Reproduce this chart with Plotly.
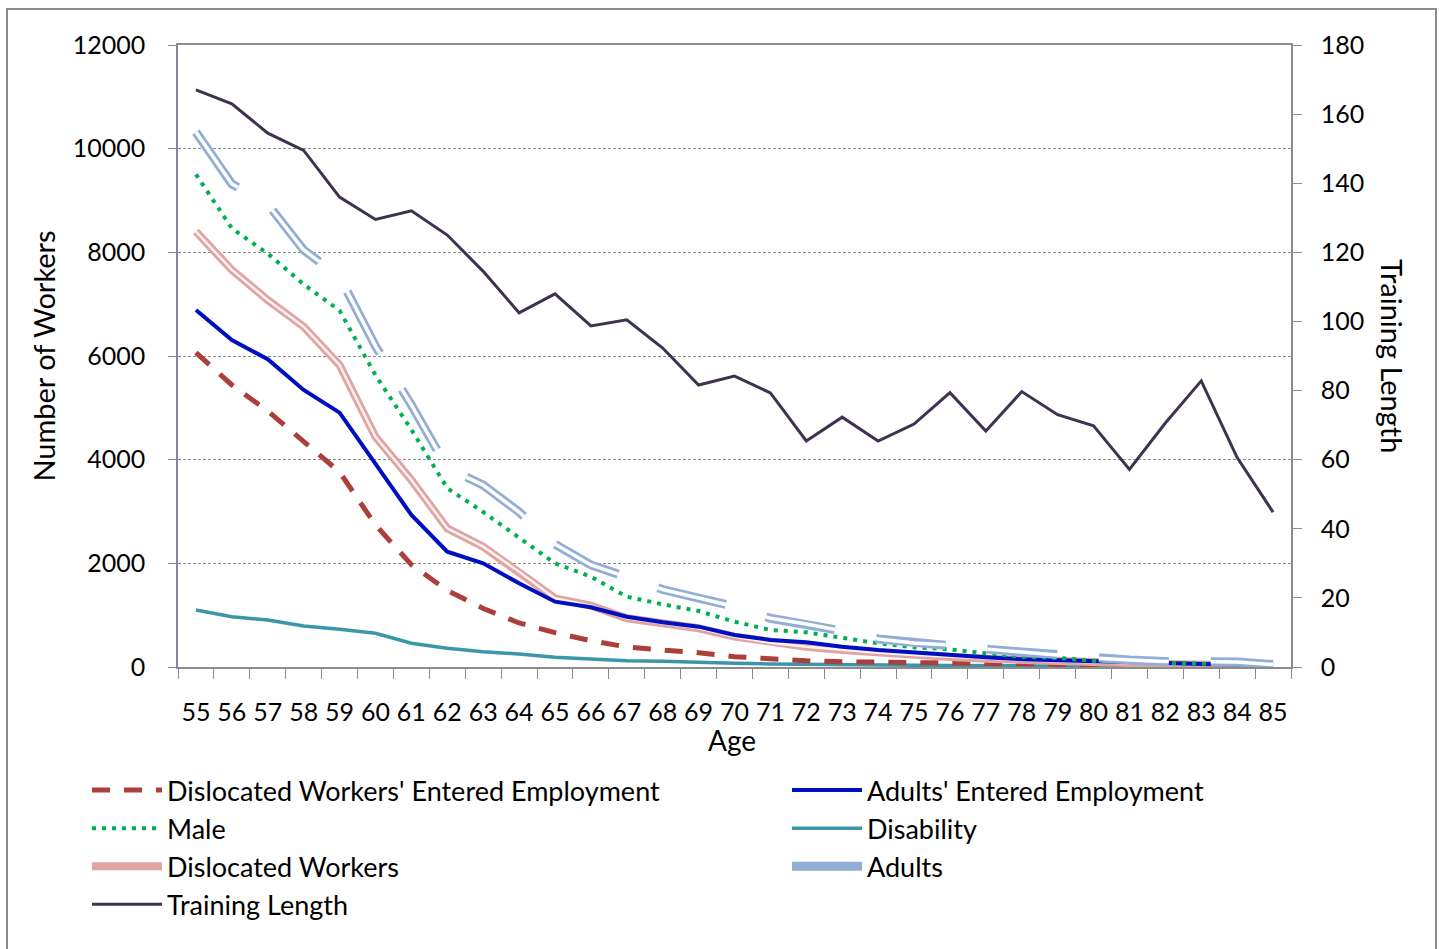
import plotly.graph_objects as go

# Age categories on the x axis
ages = ["55", "56", "57", "58", "59", "60", "61", "62", "63", "64", "65",
        "66", "67", "68", "69", "70", "71", "72", "73", "74", "75",
        "76", "77", "78", "79", "80", "81", "82", "83", "84", "85"]

# Number of workers (left axis)
dislocated_entered = [6064, 5441, 4939, 4341, 3762, 2740, 1974, 1476, 1129, 849, 662,
                      507, 386, 328, 276, 199, 149, 120, 102, 91, 80,
                      70, 60, 50, 45, 40, 35, 30, 25, 20, 15]
adults_entered = [6888, 6309, 5937, 5344, 4907, 3930, 2933, 2225, 2000, 1615, 1260,
                  1152, 971, 862, 778, 617, 521, 476, 392, 328, 276,
                  232, 190, 150, 130, 110, 90, 75, 60, 50, 35]
male = [9505, 8463, 7977, 7383, 6876, 5630, 4580, 3450, 2990, 2495, 2000,
        1743, 1356, 1209, 1080, 874, 714, 669, 566, 457, 380,
        340, 264, 200, 175, 120, 100, 80, 60, 50, 30]
disability = [1100, 971, 907, 791, 727, 650, 457, 360, 296, 251, 187,
              149, 122, 110, 83, 71, 60, 50, 45, 40, 35,
              30, 25, 20, 18, 15, 12, 10, 8, 6, 5]
dislocated_workers = [8400, 7660, 7080, 6566, 5827, 4443, 3608, 2676, 2321, 1839, 1325,
                      1183, 940, 843, 747, 585, 469, 392, 328, 276, 231,
                      193, 160, 130, 110, 90, 75, 60, 50, 40, 25]
adults = [10320, 9319, 8930, 8045, 7530, 6190, 5055, 3840, 3510, 2990, 2370,
          1968, 1736, 1495, 1331, 1167, 940, 830, 695, 540, 463,
          425, 347, 290, 232, 174, 135, 106, 106, 96, 48]

# Average training length (right axis)
training_length = [167, 163, 154.5, 149.5, 136, 129.5, 132, 125, 114.5, 102.5, 108,
                   98.7, 100.5, 92.3, 81.6, 84.2, 79.3, 65.4, 72.3, 65.4, 70.3,
                   79.4, 68.3, 79.7, 73, 69.8, 57.2, 70.6, 82.8, 60.6, 44.8]

FONT = "Lato, 'Open Sans', sans-serif"
W, H = 1439, 949
ML, MR, MT, MB = 178, 148, 45, 282
PW, PH = W - ML - MR, H - MT - MB


def px_x(x):
    return (x - ML) / PW


def px_y(y):
    return 1 - (y - MT) / PH


fig = go.Figure()

# Disability
fig.add_trace(go.Scatter(x=ages, y=disability, mode="lines", name="Disability",
                         line=dict(color="#3b96a9", width=3.5),
                         legend="legend2", legendrank=2))

# Dislocated Workers' Entered Employment
fig.add_trace(go.Scatter(x=ages, y=dislocated_entered, mode="lines",
                         name="Dislocated Workers' Entered Employment",
                         line=dict(color="#ab3f3a", width=5, dash="18px,14px"),
                         legend="legend", legendrank=1))

# Dislocated Workers: pink double line (outer pink, light core)
fig.add_trace(go.Scatter(x=ages, y=dislocated_workers, mode="lines",
                         name="Dislocated Workers",
                         line=dict(color="#e0a4a2", width=8),
                         legend="legend", legendrank=3, legendgroup="dw"))
fig.add_trace(go.Scatter(x=ages, y=dislocated_workers, mode="lines",
                         name="Dislocated Workers", showlegend=False,
                         line=dict(color="#fcf1f1", width=2.5), legendgroup="dw",
                         hoverinfo="skip"))

# Adults' Entered Employment
fig.add_trace(go.Scatter(x=ages, y=adults_entered, mode="lines",
                         name="Adults' Entered Employment",
                         line=dict(color="#0010c0", width=4),
                         legend="legend2", legendrank=1))

# Male
fig.add_trace(go.Scatter(x=ages, y=male, mode="lines", name="Male",
                         line=dict(color="#00b050", width=4, dash="4px,6px"),
                         legend="legend", legendrank=2))

# Adults: long-dashed double line
fig.add_trace(go.Scatter(x=ages, y=adults, mode="lines", name="Adults",
                         line=dict(color="#93aed5", width=9, dash="70px,42px"),
                         legend="legend2", legendrank=3, legendgroup="ad"))
fig.add_trace(go.Scatter(x=ages, y=adults, mode="lines", name="Adults",
                         showlegend=False, legendgroup="ad", hoverinfo="skip",
                         line=dict(color="#ffffff", width=3.5, dash="70px,42px")))

# Training Length on the secondary axis
fig.add_trace(go.Scatter(x=ages, y=training_length, mode="lines",
                         name="Training Length", yaxis="y2",
                         line=dict(color="#3f3150", width=3),
                         legend="legend", legendrank=4))

tick_font = dict(family=FONT, size=25, color="#000000")
title_font = dict(family=FONT, size=29, color="#000000")
legend_font = dict(family=FONT, size=27, color="#000000")

fig.update_layout(
    width=W, height=H, autosize=False,
    margin=dict(l=ML, r=MR, t=MT, b=MB, autoexpand=False),
    paper_bgcolor="#ffffff", plot_bgcolor="#ffffff",
    font=tick_font,
    xaxis=dict(
        type="category", range=[-0.5, 30.5], tickson="boundaries",
        ticks="outside", ticklen=10, tickcolor="#8c8c8c", tickwidth=1,
        showline=True, linecolor="#8c8c8c", linewidth=1.5, mirror=True,
        showgrid=False, tickfont=tick_font, tickangle=0, ticklabelstandoff=22,
        automargin=False,
    ),
    yaxis=dict(
        range=[0, 12000], dtick=2000, tickformat="d",
        ticks="outside", ticklen=8, tickcolor="#8c8c8c",
        showline=True, linecolor="#8a83a0", linewidth=1.5,
        showgrid=True, gridcolor="#8c8c8c", gridwidth=1, griddash="3px,2px",
        zeroline=False, tickfont=tick_font, ticklabelstandoff=18,
        title=dict(text="Number of Workers", font=title_font, standoff=9),
        automargin=False,
    ),
    yaxis2=dict(
        overlaying="y", side="right", range=[0, 180], dtick=20,
        ticks="outside", ticklen=9, tickcolor="#8c8c8c",
        showline=True, linecolor="#8c8c8c", linewidth=1.5,
        showgrid=False, zeroline=False, tickfont=tick_font,
        ticklabelstandoff=14, automargin=False,
    ),
    legend=dict(
        orientation="v", x=px_x(87), y=px_y(766), xanchor="left", yanchor="top",
        font=legend_font, itemwidth=70, bgcolor="rgba(0,0,0,0)",
        traceorder="normal", tracegroupgap=0,
    ),
    legend2=dict(
        orientation="v", x=px_x(787), y=px_y(766), xanchor="left", yanchor="top",
        font=legend_font, itemwidth=70, bgcolor="rgba(0,0,0,0)",
        traceorder="normal", tracegroupgap=0,
    ),
    annotations=[
        dict(text="Age", xref="paper", yref="paper",
             x=px_x(732), y=px_y(740), showarrow=False,
             font=dict(family=FONT, size=28, color="#000000"),
             xanchor="center", yanchor="middle"),
        dict(text="Training Length", xref="paper", yref="paper",
             x=px_x(1393), y=px_y(356), textangle=90, showarrow=False,
             font=title_font, xanchor="center", yanchor="middle"),
    ],
    shapes=[
        dict(type="rect", xref="paper", yref="paper",
             x0=px_x(7), x1=px_x(1436), y0=px_y(960), y1=px_y(9),
             line=dict(color="#8c8c8c", width=2), layer="below"),
    ],
)

fig.write_html("out.html")
